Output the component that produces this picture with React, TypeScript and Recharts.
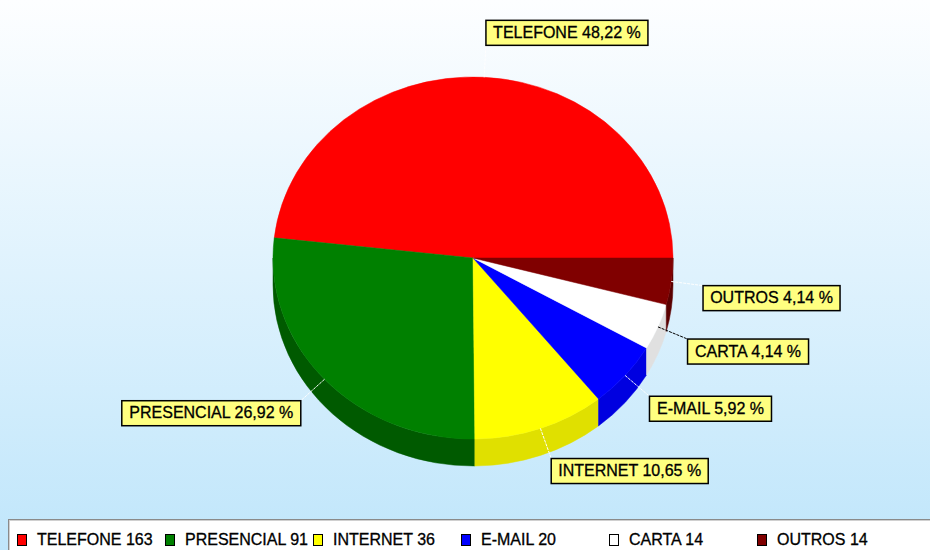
import { PieChart, Pie, Cell, Legend } from "recharts";

const CHANNELS = ["TELEFONE", "PRESENCIAL", "INTERNET", "E-MAIL", "CARTA", "OUTROS"];
const COUNTS = [163, 91, 36, 20, 14, 14];
const TOP_COLORS = ["#ff0000", "#008000", "#ffff00", "#0000ff", "#ffffff", "#800000"];
const SIDE_COLORS = ["#c00000", "#005a00", "#e0e000", "#0000e0", "#e0e0e0", "#5a0000"];

const SQUASH = 0.905;
const DEPTH = 27;
const FONT = "16px 'Liberation Sans', Arial, sans-serif";

const rows = CHANNELS.map((name, i) => ({
  name,
  value: COUNTS[i],
  fill: TOP_COLORS[i],
  side: SIDE_COLORS[i],
}));

let ctx: CanvasRenderingContext2D | null = null;
function textWidth(t: string) {
  if (!ctx) ctx = document.createElement("canvas").getContext("2d");
  if (!ctx) return t.length * 9;
  ctx.font = FONT;
  return ctx.measureText(t).width;
}

function pt(cx: number, cy: number, rx: number, ry: number, deg: number) {
  const a = (deg * Math.PI) / 180;
  return [cx + rx * Math.cos(a), cy - ry * Math.sin(a)];
}

// top face as an ellipse sector, plus the extruded rim for the front half
function Slice3D(props: any) {
  const { cx, cy, outerRadius, startAngle, endAngle, fill } = props;
  const side = props.side ?? props.payload?.side ?? fill;
  const rx = outerRadius;
  const ry = outerRadius * SQUASH;
  const a0 = Math.min(startAngle, endAngle);
  const a1 = Math.max(startAngle, endAngle);
  const [x0, y0] = pt(cx, cy, rx, ry, a0);
  const [x1, y1] = pt(cx, cy, rx, ry, a1);
  const large = a1 - a0 > 180 ? 1 : 0;
  const top = `M${cx},${cy} L${x0},${y0} A${rx},${ry} 0 ${large} 0 ${x1},${y1} Z`;

  let rim = null;
  const s0 = Math.max(a0, 180);
  const s1 = Math.min(a1, 360);
  if (s1 > s0) {
    const [p0x, p0y] = pt(cx, cy, rx, ry, s0);
    const [p1x, p1y] = pt(cx, cy, rx, ry, s1);
    const d =
      `M${p0x},${p0y} A${rx},${ry} 0 0 0 ${p1x},${p1y} ` +
      `L${p1x},${p1y + DEPTH} A${rx},${ry} 0 0 1 ${p0x},${p0y + DEPTH} Z`;
    rim = <path d={d} fill={side} stroke={side} strokeWidth={0.5} />;
  }
  return (
    <g>
      {rim}
      <path d={top} fill={fill} stroke={fill} strokeWidth={0.5} />
    </g>
  );
}

function SliceLabel(props: any) {
  const { cx, cy, outerRadius, midAngle, name, percent, fill } = props;
  const rx = outerRadius;
  const ry = outerRadius * SQUASH;
  const a = (midAngle * Math.PI) / 180;
  const c = Math.cos(a);
  const s = Math.sin(a);
  const ex = cx + rx * c;
  const ey = cy - ry * s;
  const bx = ex + c * 32;
  const by = ey - s * 32;
  const text = `${name} ${(percent * 100).toFixed(2).replace(".", ",")} %`;
  const w = Math.round(textWidth(text) + 14);
  const h = 25;
  const left = c >= 0 ? bx : bx - w;
  const topY = s >= 0 ? by - h : by;
  const lineColor = fill === "#ffffff" ? "#000000" : "#ffffff";
  return (
    <g>
      <line x1={ex} y1={ey} x2={bx} y2={by} stroke={lineColor} strokeWidth={1} strokeDasharray="3 1" />
      <rect x={left} y={topY} width={w} height={h} fill="#ffff80" stroke="#000" strokeWidth={1.5} />
      <text
        x={left + w / 2}
        y={topY + h / 2 + 1}
        textAnchor="middle"
        dominantBaseline="middle"
        style={{ font: FONT }}
        fill="#000"
        stroke="#000"
        strokeWidth={0.3}
      >
        {text}
      </text>
    </g>
  );
}

function LegendBox() {
  return (
    <div
      style={{
        position: "relative",
        width: 960,
        height: 40,
        background: "#ffffff",
        border: "1px solid #8a8a8a",
        boxShadow: "inset 1px 1px 0 #d0d0d0",
        fontFamily: "'Liberation Sans', Arial, sans-serif",
        fontSize: 16,
        color: "#000",
      }}
    >
      {rows.map((r, i) => (
        <div key={r.name} style={{ position: "absolute", left: 8 + i * 148, top: 11, display: "flex", alignItems: "center" }}>
          <span style={{ display: "inline-block", width: 8, height: 10, background: r.fill, border: "1px solid #000", marginRight: 10 }} />
          <span style={{ WebkitTextStroke: "0.3px #000" }}>{`${r.name} ${r.value}`}</span>
        </div>
      ))}
    </div>
  );
}

export default function App() {
  return (
    <div
      style={{
        position: "fixed",
        left: 0,
        top: 0,
        width: 930,
        height: 550,
        overflow: "hidden",
        background: "linear-gradient(#fdfeff, #c0e6fb)",
      }}
    >
      <PieChart width={930} height={550} margin={{ top: 0, right: 0, bottom: 0, left: 0 }}>
        <Pie
          data={rows}
          dataKey="value"
          nameKey="name"
          cx={473}
          cy={258}
          outerRadius={200}
          startAngle={0}
          endAngle={360}
          shape={Slice3D}
          label={SliceLabel}
          labelLine={false}
          isAnimationActive={false}
        >
          {rows.map((r) => (
            <Cell key={r.name} fill={r.fill} />
          ))}
        </Pie>
        <Legend
          content={() => <LegendBox />}
          wrapperStyle={{ position: "absolute", left: 8, top: 519, width: 960, height: 40 }}
        />
      </PieChart>
    </div>
  );
}
